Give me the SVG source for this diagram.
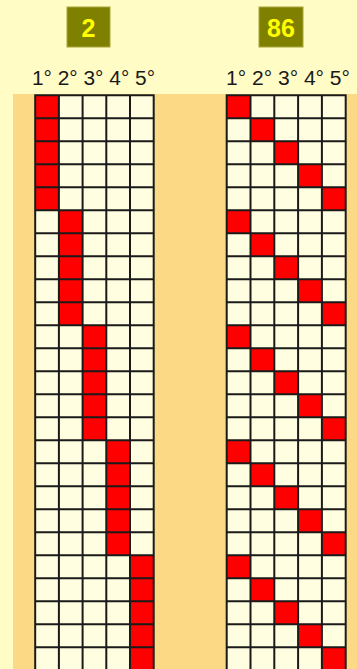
<svg xmlns="http://www.w3.org/2000/svg" width="357" height="669" viewBox="0 0 357 669">
<style>
.bg{fill:#FFFCC6}
.band{fill:#FCD984}
.cells{fill:#FFFEE1}
.red{fill:#FF0000}
.lines{fill:none;stroke:#1a1a1a;stroke-width:2;stroke-linecap:square}
.tbox{fill:#808000;stroke:#A6A63A;stroke-width:1}
.tnum{font-family:"Liberation Sans",Arial,sans-serif;font-weight:bold;font-size:25px;fill:#FFFF00;text-anchor:middle}
.hdr{font-family:"Liberation Sans",Arial,sans-serif;font-size:20px;fill:#1a1a1a}
</style>
<rect class="bg" x="0" y="0" width="357" height="669"/>
<rect class="band" x="13" y="94" width="344" height="575"/>

<g id="title-left">
<rect class="tbox" x="67" y="7" width="43" height="40"/>
<text class="tnum" x="88.5" y="37">2</text>
</g>
<g id="title-right">
<rect class="tbox" x="259" y="7" width="44" height="40"/>
<text class="tnum" x="281" y="37">86</text>
</g>

<g id="header-left">
<text class="hdr" x="32" y="85" textLength="123" lengthAdjust="spacingAndGlyphs">1° 2° 3° 4° 5°</text>
</g>
<g id="header-right">
<text class="hdr" x="226" y="85" textLength="124" lengthAdjust="spacingAndGlyphs">1° 2° 3° 4° 5°</text>
</g>

<g id="grid-left">
<rect class="cells" x="35.2" y="95.3" width="118.5" height="575"/>
<rect class="red" x="35.2" y="95.3" width="23.7" height="115"/>
<rect class="red" x="58.9" y="210.3" width="23.7" height="115"/>
<rect class="red" x="82.6" y="325.3" width="23.7" height="115"/>
<rect class="red" x="106.3" y="440.3" width="23.7" height="115"/>
<rect class="red" x="130" y="555.3" width="23.7" height="115"/>
<path class="lines" d="M35.2 95.3V670 M58.9 95.3V670 M82.6 95.3V670 M106.3 95.3V670 M130 95.3V670 M153.7 95.3V670
M35.2 95.3H153.7 M35.2 118.3H153.7 M35.2 141.3H153.7 M35.2 164.3H153.7 M35.2 187.3H153.7
M35.2 210.3H153.7 M35.2 233.3H153.7 M35.2 256.3H153.7 M35.2 279.3H153.7 M35.2 302.3H153.7
M35.2 325.3H153.7 M35.2 348.3H153.7 M35.2 371.3H153.7 M35.2 394.3H153.7 M35.2 417.3H153.7
M35.2 440.3H153.7 M35.2 463.3H153.7 M35.2 486.3H153.7 M35.2 509.3H153.7 M35.2 532.3H153.7
M35.2 555.3H153.7 M35.2 578.3H153.7 M35.2 601.3H153.7 M35.2 624.3H153.7 M35.2 647.3H153.7"/>
</g>

<g id="grid-right">
<rect class="cells" x="226.7" y="95.3" width="119" height="575"/>
<g class="red">
<rect x="226.7" y="95.3" width="23.8" height="23"/>
<rect x="250.5" y="118.3" width="23.8" height="23"/>
<rect x="274.3" y="141.3" width="23.8" height="23"/>
<rect x="298.1" y="164.3" width="23.8" height="23"/>
<rect x="321.9" y="187.3" width="23.8" height="23"/>
<rect x="226.7" y="210.3" width="23.8" height="23"/>
<rect x="250.5" y="233.3" width="23.8" height="23"/>
<rect x="274.3" y="256.3" width="23.8" height="23"/>
<rect x="298.1" y="279.3" width="23.8" height="23"/>
<rect x="321.9" y="302.3" width="23.8" height="23"/>
<rect x="226.7" y="325.3" width="23.8" height="23"/>
<rect x="250.5" y="348.3" width="23.8" height="23"/>
<rect x="274.3" y="371.3" width="23.8" height="23"/>
<rect x="298.1" y="394.3" width="23.8" height="23"/>
<rect x="321.9" y="417.3" width="23.8" height="23"/>
<rect x="226.7" y="440.3" width="23.8" height="23"/>
<rect x="250.5" y="463.3" width="23.8" height="23"/>
<rect x="274.3" y="486.3" width="23.8" height="23"/>
<rect x="298.1" y="509.3" width="23.8" height="23"/>
<rect x="321.9" y="532.3" width="23.8" height="23"/>
<rect x="226.7" y="555.3" width="23.8" height="23"/>
<rect x="250.5" y="578.3" width="23.8" height="23"/>
<rect x="274.3" y="601.3" width="23.8" height="23"/>
<rect x="298.1" y="624.3" width="23.8" height="23"/>
<rect x="321.9" y="647.3" width="23.8" height="23"/>
</g>
<path class="lines" d="M226.7 95.3V670 M250.5 95.3V670 M274.3 95.3V670 M298.1 95.3V670 M321.9 95.3V670 M345.7 95.3V670
M226.7 95.3H345.7 M226.7 118.3H345.7 M226.7 141.3H345.7 M226.7 164.3H345.7 M226.7 187.3H345.7
M226.7 210.3H345.7 M226.7 233.3H345.7 M226.7 256.3H345.7 M226.7 279.3H345.7 M226.7 302.3H345.7
M226.7 325.3H345.7 M226.7 348.3H345.7 M226.7 371.3H345.7 M226.7 394.3H345.7 M226.7 417.3H345.7
M226.7 440.3H345.7 M226.7 463.3H345.7 M226.7 486.3H345.7 M226.7 509.3H345.7 M226.7 532.3H345.7
M226.7 555.3H345.7 M226.7 578.3H345.7 M226.7 601.3H345.7 M226.7 624.3H345.7 M226.7 647.3H345.7"/>
</g>
</svg>
